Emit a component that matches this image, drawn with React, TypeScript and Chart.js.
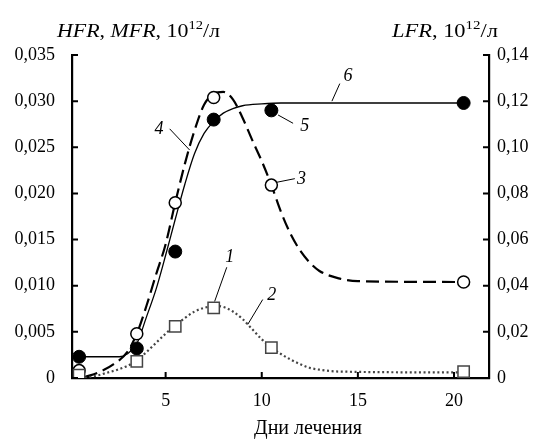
import React, { useEffect, useRef } from 'react';
import { Chart, registerables } from 'chart.js';

Chart.register(...registerables);

// ---- data ----
const pointDays = [0.5, 3.5, 5.5, 7.5, 10.5, 20.5];
// squares (1), left axis
const hfrValues = [0.0003, 0.0018, 0.0056, 0.0076, 0.0033, 0.0007];
// open circles (3), left axis
const mfrValues = [0.0008, 0.0048, 0.019, 0.0304, 0.0209, 0.0104];
// filled circles (5), right axis
const lfrValues = [0.0092, 0.0128, 0.0548, 0.112, 0.116, 0.1192];

// dotted curve (2), left axis
const curve2Days = [0.8, 1.5, 2.0, 2.5, 3.0, 3.5, 4.0, 4.5, 5.0, 5.5, 6.0, 6.5, 7.0, 7.5, 8.0, 8.5, 9.0, 9.5, 10.0, 10.5, 11.0, 11.5, 12.0, 12.5, 13.0, 14.0, 20.5];
const curve2Values = [0.0, 0.0003, 0.0006, 0.0009, 0.0013, 0.0019, 0.0028, 0.0038, 0.0048, 0.0057, 0.0065, 0.0072, 0.0076, 0.0078, 0.0077, 0.0072, 0.0064, 0.0053, 0.0042, 0.0033, 0.0026, 0.002, 0.0015, 0.0011, 0.0009, 0.0007, 0.0006];

// dashed curve (4), left axis
const curve4Days = [0.8, 1.5, 2.3, 3.0, 3.5, 4.0, 4.5, 5.0, 5.5, 6.0, 6.5, 7.0, 7.5, 8.0, 8.5, 9.0, 9.5, 10.0, 10.5, 11.0, 11.5, 12.0, 12.5, 13.0, 14.0, 15.0, 20.5];
const curve4Values = [0.0001, 0.0006, 0.0015, 0.0028, 0.0048, 0.0078, 0.0112, 0.0145, 0.019, 0.0232, 0.0268, 0.0296, 0.0308, 0.031, 0.0302, 0.0282, 0.0258, 0.0235, 0.0209, 0.018, 0.0156, 0.0138, 0.0125, 0.0116, 0.0108, 0.0105, 0.0104];

// solid curve (6), right axis
const curve6Days = [0.5, 2.6, 3.0, 3.5, 4.0, 4.5, 5.0, 5.5, 6.0, 6.5, 7.0, 7.5, 8.0, 8.5, 9.0, 10.0, 11.0, 20.5];
const curve6Values = [0.0092, 0.0092, 0.0104, 0.0148, 0.0264, 0.0384, 0.0532, 0.0688, 0.084, 0.0972, 0.106, 0.1112, 0.1148, 0.1168, 0.118, 0.1188, 0.1192, 0.1192];

const xTicks = [5, 10, 15, 20];
const leftTicks = [0, 0.005, 0.01, 0.015, 0.02, 0.025, 0.03, 0.035];
const rightTicks = [0, 0.02, 0.04, 0.06, 0.08, 0.1, 0.12, 0.14];

const xTitle = 'Дни лечения';

// curve labels: text, text position, leader line (data coords, left axis)
const curveLabels = ['1', '2', '3', '4', '5', '6'];
const labelAt = [
  [8.33, 0.0131], [10.52, 0.009], [12.07, 0.0215], [4.65, 0.0269], [12.24, 0.0273], [14.48, 0.0327],
];
const leaderFrom = [
  [8.18, 0.012], [10.05, 0.0085], [10.76, 0.0212], [5.21, 0.027], [10.85, 0.0285], [14.06, 0.0319],
];
const leaderTo = [
  [7.55, 0.0083], [9.27, 0.0058], [11.72, 0.0216], [6.25, 0.0247], [11.63, 0.0276], [13.65, 0.03],
];

const FONT = '"Liberation Serif", "Times New Roman", serif';

const pts = (xs: number[], ys: number[]) => xs.map((x, i) => ({ x, y: ys[i] }));

const fmt = (v: number, d: number) => (v === 0 ? '0' : v.toFixed(d).replace('.', ','));

type Part = { t: string; it?: boolean; sup?: boolean };

function richWidth(ctx: CanvasRenderingContext2D, parts: Part[]) {
  let w = 0;
  for (const p of parts) {
    ctx.font = `${p.it ? 'italic ' : ''}${p.sup ? 12 : 18}px ${FONT}`;
    w += ctx.measureText(p.t).width;
  }
  return w;
}

function drawRich(ctx: CanvasRenderingContext2D, parts: Part[], x: number, y: number, targetW: number) {
  const w = richWidth(ctx, parts);
  const k = targetW / w;
  ctx.save();
  ctx.translate(x, y);
  ctx.scale(k, 1);
  let cx = 0;
  for (const p of parts) {
    ctx.font = `${p.it ? 'italic ' : ''}${p.sup ? 12 : 18}px ${FONT}`;
    ctx.fillText(p.t, cx, p.sup ? -8 : 0);
    cx += ctx.measureText(p.t).width;
  }
  ctx.restore();
}

const extrasPlugin = {
  id: 'extras',
  afterDraw(chart: any) {
    const { ctx, chartArea: a, scales } = chart;
    const sx = scales.x, sy = scales.y, sy2 = scales.y2;
    ctx.save();
    ctx.strokeStyle = '#000';
    ctx.lineWidth = 2;
    // inward tick marks
    ctx.beginPath();
    for (const v of leftTicks) {
      const py = sy.getPixelForValue(v);
      ctx.moveTo(a.left, py);
      ctx.lineTo(a.left + 6, py);
    }
    for (const v of rightTicks) {
      const py = sy2.getPixelForValue(v);
      ctx.moveTo(a.right, py);
      ctx.lineTo(a.right - 6, py);
    }
    for (const v of xTicks) {
      const px = sx.getPixelForValue(v);
      ctx.moveTo(px, a.bottom);
      ctx.lineTo(px, a.bottom - 6);
    }
    ctx.stroke();

    // leader lines and curve numbers
    ctx.lineWidth = 1;
    ctx.beginPath();
    for (let i = 0; i < curveLabels.length; i++) {
      ctx.moveTo(sx.getPixelForValue(leaderFrom[i][0]), sy.getPixelForValue(leaderFrom[i][1]));
      ctx.lineTo(sx.getPixelForValue(leaderTo[i][0]), sy.getPixelForValue(leaderTo[i][1]));
    }
    ctx.stroke();
    ctx.fillStyle = '#000';
    ctx.textAlign = 'center';
    ctx.textBaseline = 'middle';
    ctx.font = `italic 18px ${FONT}`;
    for (let i = 0; i < curveLabels.length; i++) {
      ctx.fillText(curveLabels[i], sx.getPixelForValue(labelAt[i][0]), sy.getPixelForValue(labelAt[i][1]));
    }

    // axis titles
    ctx.font = `20px ${FONT}`;
    ctx.fillText(xTitle, 308, 429);
    ctx.textAlign = 'left';
    ctx.textBaseline = 'alphabetic';
    drawRich(ctx, [
      { t: 'HFR', it: true }, { t: ', ' }, { t: 'MFR', it: true }, { t: ', 10' }, { t: '12', sup: true }, { t: '/л' },
    ], 57, 37, 163);
    drawRich(ctx, [
      { t: 'LFR', it: true }, { t: ', 10' }, { t: '12', sup: true }, { t: '/л' },
    ], 392, 37, 106);
    ctx.restore();
  },
};

export default function App() {
  const ref = useRef<HTMLCanvasElement>(null);
  useEffect(() => {
    document.body.style.margin = '0';
    const canvas = ref.current;
    if (!canvas) return;
    const chart = new Chart(canvas, {
      type: 'scatter',
      data: {
        datasets: [
          {
            data: pts(pointDays, hfrValues), yAxisID: 'y', pointStyle: 'rect', pointRadius: 8,
            pointBackgroundColor: '#fff', pointBorderColor: '#444', pointBorderWidth: 1.5, order: 1,
          },
          {
            data: pts(pointDays, mfrValues), yAxisID: 'y', pointStyle: 'circle', pointRadius: 6,
            pointBackgroundColor: '#fff', pointBorderColor: '#000', pointBorderWidth: 1.5, order: 1,
          },
          {
            data: pts(pointDays, lfrValues), yAxisID: 'y2', pointStyle: 'circle', pointRadius: 6.5,
            pointBackgroundColor: '#000', pointBorderColor: '#000', pointBorderWidth: 1, order: 1,
          },
          {
            data: pts(curve2Days, curve2Values), yAxisID: 'y', showLine: true, pointRadius: 0,
            borderColor: '#444', borderWidth: 2.2, borderDash: [2, 2.6], cubicInterpolationMode: 'monotone', order: 2,
          },
          {
            data: pts(curve4Days, curve4Values), yAxisID: 'y', showLine: true, pointRadius: 0,
            borderColor: '#000', borderWidth: 2.2, borderDash: [13, 6], cubicInterpolationMode: 'monotone', order: 2,
          },
          {
            data: pts(curve6Days, curve6Values), yAxisID: 'y2', showLine: true, pointRadius: 0,
            borderColor: '#000', borderWidth: 1.3, cubicInterpolationMode: 'monotone', order: 2,
          },
        ] as any,
      },
      options: {
        animation: false,
        responsive: false,
        layout: { padding: { top: 55, left: 0, right: 0, bottom: 0 } },
        plugins: { legend: { display: false }, tooltip: { enabled: false } },
        scales: {
          x: {
            type: 'linear', min: 0.13, max: 21.82,
            grid: { display: false, drawTicks: false },
            border: { display: true, width: 2.2, color: '#000' },
            afterBuildTicks: (s: any) => { s.ticks = xTicks.map((v) => ({ value: v })); },
            afterFit: (s: any) => { s.height = 62; },
            ticks: { padding: 12, color: '#000', font: { family: FONT, size: 18 }, callback: (v: any) => String(v) },
          },
          y: {
            type: 'linear', position: 'left', min: 0, max: 0.035,
            grid: { display: false, drawTicks: false },
            border: { display: true, width: 2.2, color: '#000' },
            afterBuildTicks: (s: any) => { s.ticks = leftTicks.map((v) => ({ value: v })); },
            afterFit: (s: any) => { s.width = 72; },
            ticks: { padding: 17, color: '#000', font: { family: FONT, size: 18 }, callback: (v: any) => fmt(Number(v), 3) },
          },
          y2: {
            type: 'linear', position: 'right', min: 0, max: 0.14,
            grid: { display: false, drawTicks: false },
            border: { display: true, width: 2.2, color: '#000' },
            afterBuildTicks: (s: any) => { s.ticks = rightTicks.map((v) => ({ value: v })); },
            afterFit: (s: any) => { s.width = 54; },
            ticks: { padding: 8, color: '#000', font: { family: FONT, size: 18 }, callback: (v: any) => fmt(Number(v), 2) },
          },
        },
      } as any,
      plugins: [extrasPlugin],
    });
    return () => chart.destroy();
  }, []);
  return (
    <div style={{ width: 543, height: 440, background: '#fff' }}>
      <canvas ref={ref} width={543} height={440} style={{ display: 'block' }} />
    </div>
  );
}
